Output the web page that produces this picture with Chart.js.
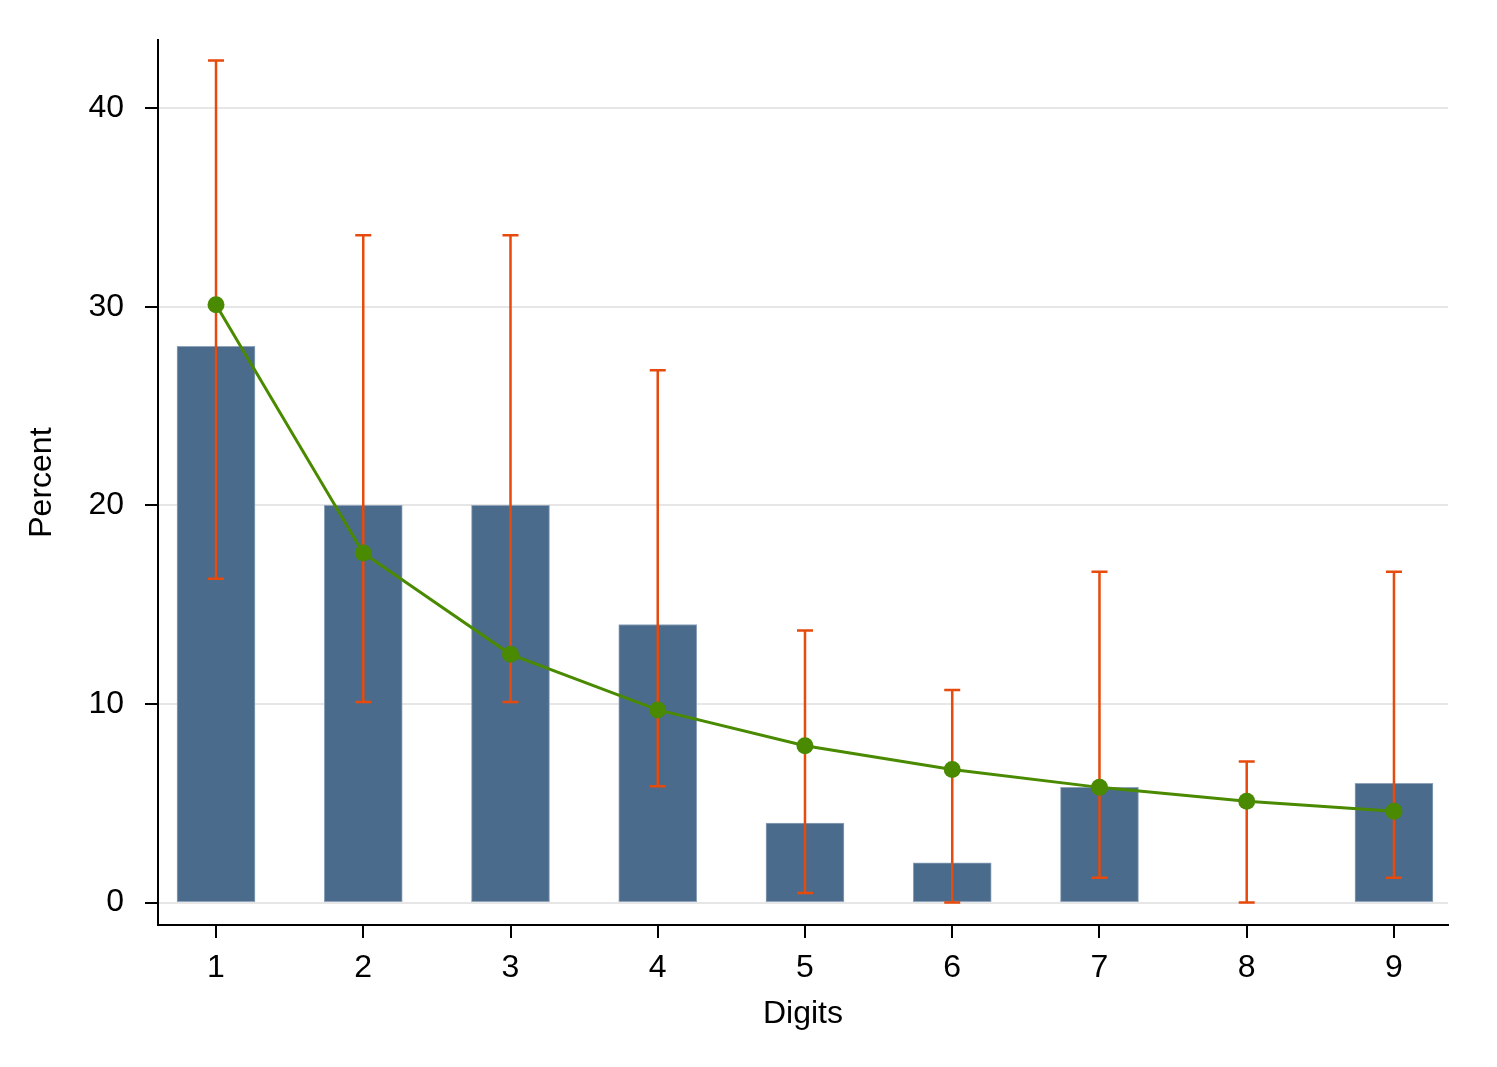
<!DOCTYPE html>
<html>
<head>
<meta charset="utf-8">
<script src="https://cdn.jsdelivr.net/npm/chart.js@4"></script>
<style>
    html, body { margin: 0; padding: 0; background: #fff; }
    #wrap { width: 1497px; height: 1067px; }
</style>
</head>
<body>
<div id="wrap"><canvas id="benfordChart"></canvas></div>
<script>
// Chart data
const digits = [1, 2, 3, 4, 5, 6, 7, 8, 9];
const observed = [28, 20, 20, 14, 4, 2, 5.8, 0, 6];
const benford = [30.1, 17.6, 12.5, 9.7, 7.9, 6.7, 5.8, 5.1, 4.6];
const ciLow = [16.3, 10.1, 10.1, 5.85, 0.48, 0, 1.25, 0, 1.25];
const ciHigh = [42.4, 33.6, 33.6, 26.8, 13.7, 10.7, 16.65, 7.1, 16.65];
const yTicks = [0, 10, 20, 30, 40];

const fontFamily = '"Liberation Sans", Arial, Helvetica, sans-serif';

// Error bars drawn right after the bars, below the line
const errorBarPlugin = {
    id: 'errorBars',
    afterDatasetDraw(chart, args) {
        if (args.index !== 0) return;
        const { ctx, scales: { x, y } } = chart;
        ctx.save();
        ctx.strokeStyle = '#e64a0c';
        ctx.lineWidth = 2.5;
        digits.forEach((d, i) => {
            const px = x.getPixelForValue(d);
            const top = y.getPixelForValue(ciHigh[i]);
            const bot = y.getPixelForValue(ciLow[i]);
            ctx.beginPath();
            ctx.moveTo(px, top);
            ctx.lineTo(px, bot);
            ctx.moveTo(px - 8, top);
            ctx.lineTo(px + 8, top);
            ctx.moveTo(px - 8, bot);
            ctx.lineTo(px + 8, bot);
            ctx.stroke();
        });
        ctx.restore();
    }
};

document.addEventListener('DOMContentLoaded', () => {
    const ctx = document.getElementById('benfordChart').getContext('2d');
    new Chart(ctx, {
        data: {
            datasets: [{
                type: 'bar',
                order: 2,
                data: digits.map((d, i) => ({ x: d, y: observed[i] })),
                backgroundColor: '#4a6b8b',
                borderColor: '#8fa4ba',
                borderWidth: 1,
                borderSkipped: false,
                barThickness: 78
            }, {
                type: 'line',
                order: 1,
                data: digits.map((d, i) => ({ x: d, y: benford[i] })),
                borderColor: '#4a8a00',
                borderWidth: 3,
                tension: 0,
                pointRadius: 8.5,
                pointBackgroundColor: '#4a8a00',
                pointBorderWidth: 0
            }]
        },
        options: {
            responsive: true,
            maintainAspectRatio: false,
            animation: false,
            layout: { padding: { left: 0, top: 38, right: 49, bottom: 0 } },
            plugins: {
                legend: { display: false },
                tooltip: { enabled: false }
            },
            scales: {
                x: {
                    type: 'linear',
                    offset: false,
                    min: 0.606,
                    max: 9.367,
                    afterBuildTicks: (scale) => { scale.ticks = digits.map(v => ({ value: v })); },
                    afterFit: (scale) => { scale.height = 142; },
                    border: { color: '#000', width: 2 },
                    grid: { offset: false, drawOnChartArea: false, tickLength: 13, tickColor: '#000', lineWidth: 2 },
                    ticks: {
                        color: '#000',
                        padding: 11,
                        font: { family: fontFamily, size: 32 },
                        callback: (v) => String(v)
                    },
                    title: {
                        display: true,
                        text: 'Digits',
                        color: '#000',
                        font: { family: fontFamily, size: 32 },
                        padding: { top: 0, bottom: 34 }
                    }
                },
                y: {
                    type: 'linear',
                    min: -1.13,
                    max: 43.42,
                    afterBuildTicks: (scale) => { scale.ticks = yTicks.map(v => ({ value: v })); },
                    afterFit: (scale) => { scale.width = 158; },
                    border: { color: '#000', width: 2 },
                    grid: { color: '#e6e6e6', lineWidth: 2, tickLength: 13, tickColor: '#000' },
                    ticks: {
                        color: '#000',
                        padding: 21,
                        font: { family: fontFamily, size: 32 },
                        callback: (v) => String(v)
                    },
                    title: {
                        display: true,
                        text: 'Percent',
                        color: '#000',
                        font: { family: fontFamily, size: 32 },
                        padding: { top: 23, bottom: 0 }
                    }
                }
            }
        },
        plugins: [errorBarPlugin]
    });
});
</script>
</body>
</html>
